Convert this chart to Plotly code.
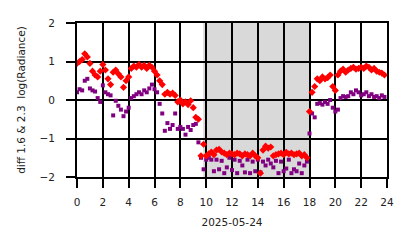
import plotly.graph_objects as go

hours = [0.0, 0.2, 0.4, 0.6, 0.8, 1.0, 1.2, 1.4, 1.6, 1.8,
         2.0, 2.2, 2.4, 2.6, 2.8, 3.0, 3.2, 3.4, 3.6, 3.8,
         4.0, 4.2, 4.4, 4.6, 4.8, 5.0, 5.2, 5.4, 5.6, 5.8,
         6.0, 6.2, 6.4, 6.6, 6.8, 7.0, 7.2, 7.4, 7.6, 7.8,
         8.0, 8.2, 8.4, 8.6, 8.8, 9.0, 9.2, 9.4, 9.6, 9.8,
         10.0, 10.2, 10.4, 10.6, 10.8, 11.0, 11.2, 11.4, 11.6, 11.8,
         12.0, 12.2, 12.4, 12.6, 12.8, 13.0, 13.2, 13.4, 13.6, 13.8,
         14.0, 14.2, 14.4, 14.6, 14.8, 15.0, 15.2, 15.4, 15.6, 15.8,
         16.0, 16.2, 16.4, 16.6, 16.8, 17.0, 17.2, 17.4, 17.6, 17.8,
         18.0, 18.2, 18.4, 18.6, 18.8, 19.0, 19.2, 19.4, 19.6, 19.8,
         20.0, 20.2, 20.4, 20.6, 20.8, 21.0, 21.2, 21.4, 21.6, 21.8,
         22.0, 22.2, 22.4, 22.6, 22.8, 23.0, 23.2, 23.4, 23.6, 23.8]

diff_red = [0.95, 1.0, 1.05, 1.2, 1.12, 0.95, 0.75, 0.65, 0.6, 0.75,
            0.92, 0.78, 0.55, 0.4, 0.72, 0.78, 0.68, 0.6, 0.33, 0.5,
            0.6, 0.82, 0.88, 0.85, 0.92, 0.85, 0.9, 0.82, 0.9, 0.85,
            0.75, 0.65, 0.5, 0.4, 0.15, 0.2, 0.15, 0.18, 0.12, -0.05,
            0.0, -0.1, -0.05, -0.12, -0.02, -0.2, -0.45, -0.5, -1.45, -1.15,
            -1.45, -1.4, -1.35, -1.42, -1.3, -1.28, -1.35, -1.38, -1.42, -1.38,
            -1.4, -1.42, -1.38, -1.4, -1.45, -1.4, -1.42, -1.45, -1.38, -1.45,
            -1.5, -1.9, -1.3, -1.2, -1.25, -1.22, -1.45, -1.42, -1.4, -1.38,
            -1.42, -1.36, -1.4, -1.38, -1.42, -1.4, -1.38, -1.45, -1.42, -1.5,
            -0.3, 0.2, 0.35, 0.55, 0.5, 0.6, 0.55, 0.58, 0.65, 0.35,
            0.25, 0.65, 0.75, 0.8, 0.72, 0.78, 0.82, 0.85, 0.8, 0.82,
            0.85, 0.82, 0.88, 0.85, 0.78, 0.82, 0.75, 0.72, 0.7, 0.65]

diff_purple = [0.2, 0.28, 0.25, 0.5, 0.55, 0.3, 0.25, 0.22, 0.05, -0.05,
               0.38, 0.2, 0.15, 0.12, -0.4, -0.02, -0.15, -0.25, -0.42, -0.3,
               -0.2, 0.05, 0.1, 0.15, 0.2, 0.15, 0.25, 0.2, 0.3, 0.4,
               0.28, 0.2, -0.1, -0.35, -0.8, -0.6, -0.75, -0.65, -0.35, -0.75,
               -0.7, -0.75, -0.9, -0.7, -0.78, -0.65, -0.62, -1.1, -1.5, -1.8,
               -1.55, -1.5, -1.55, -1.85, -1.55, -1.8, -1.58, -1.9, -1.75, -1.5,
               -1.82, -1.55, -1.9, -1.58, -1.7, -1.88, -1.55, -1.9, -1.6, -1.85,
               -1.55, -1.88, -1.6, -1.7, -1.55, -1.65, -1.75, -1.58, -1.9, -1.6,
               -1.85, -1.78, -1.55, -1.9, -1.8, -1.85, -1.65, -1.9, -1.7, -1.6,
               -0.87, -0.35, -0.45, -0.1, -0.08, -0.12, -0.05, -0.1, 0.0, -0.2,
               -0.3, -0.25, 0.05, 0.1, 0.08, 0.1, 0.2, 0.15, 0.25, 0.2,
               0.12, 0.15, 0.2, 0.1, 0.15, 0.08, 0.1, 0.05, 0.12, 0.08]

night_start = 9.77
night_end = 18.0
x_ticks = [0, 2, 4, 6, 8, 10, 12, 14, 16, 18, 20, 22, 24]
y_ticks = [-2, -1, 0, 1, 2]

fig = go.Figure()
fig.add_trace(go.Scatter(x=hours, y=diff_purple, mode="markers",
                         marker=dict(symbol="square", size=4, color="purple"),
                         showlegend=False))
fig.add_trace(go.Scatter(x=hours, y=diff_red, mode="markers",
                         marker=dict(symbol="diamond", size=5.5, color="red"),
                         showlegend=False))
fig.add_shape(type="rect", xref="x", yref="paper", x0=night_start, x1=night_end,
              y0=0, y1=1, fillcolor="#d9d9d9", line=dict(width=0), layer="below")

axis_common = dict(showgrid=True, gridcolor="black", gridwidth=2,
                   zeroline=False, showline=True, linecolor="black", linewidth=2,
                   mirror=True, ticks="outside", ticklen=9, tickwidth=2,
                   tickcolor="black", tickfont=dict(size=10.5, color="#222"))
fig.update_xaxes(range=[0, 24], tickvals=x_ticks, ticktext=[str(t) for t in x_ticks],
                 ticklabelstandoff=5,
                 title=dict(text="2025-05-24", font=dict(size=10.5, color="#222"), standoff=12),
                 **axis_common)
fig.update_yaxes(range=[-2, 2], tickvals=y_ticks, ticktext=["\u22122", "\u22121", "0", "1", "2"],
                 ticklabelstandoff=9,
                 title=dict(text="diff 1.6 &amp; 2.3  log(Radiance)", font=dict(size=10.5, color="#222"), standoff=12),
                 **axis_common)
fig.update_layout(width=414, height=248, margin=dict(l=77, r=27, t=23, b=71),
                  plot_bgcolor="white", paper_bgcolor="white",
                  font=dict(family="DejaVu Sans", size=10.5, color="#222"))
fig.write_html("out.html")
